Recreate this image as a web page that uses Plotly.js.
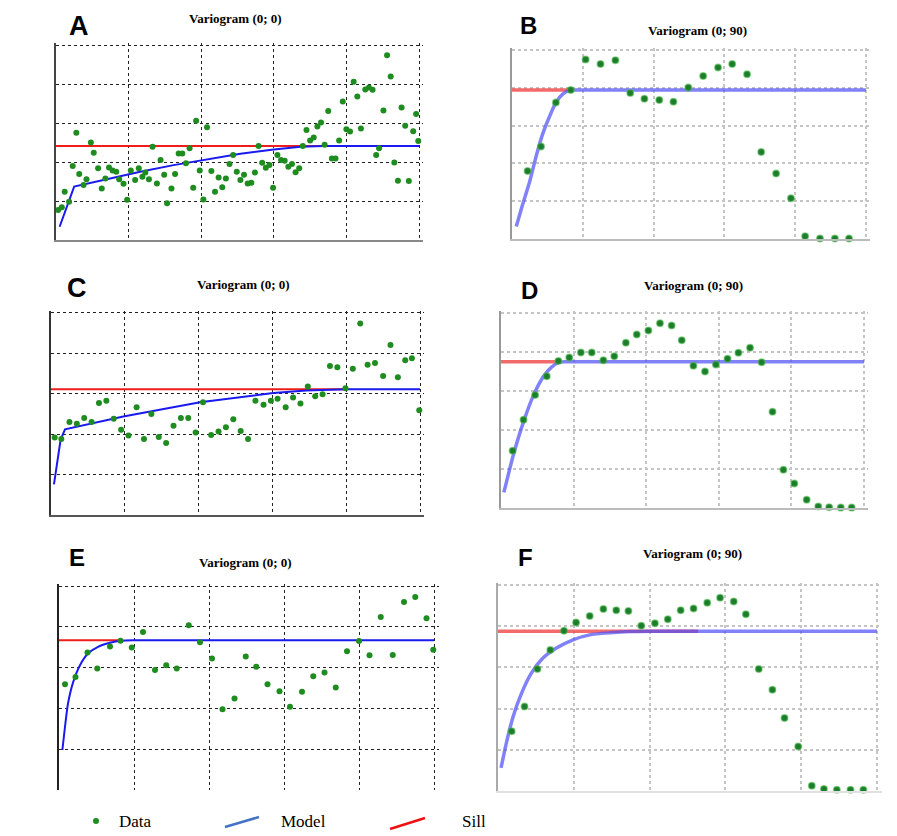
<!DOCTYPE html>
<html>
<head>
<meta charset="utf-8">
<script src="https://cdn.plot.ly/plotly-3.0.1.min.js"></script>
<style>html,body{margin:0;padding:0;background:#fff;}#chart{width:897px;height:836px;}</style>
</head>
<body>
<div id="chart"></div>
<script>
// ---------- Panel A : Variogram (0; 0) ----------
const aX = [0.03,0.08,0.12,0.18,0.23,0.28,0.32,0.38,0.42,0.48,0.52,0.58,0.63,0.68,0.73,0.78,0.83,0.87,0.93,0.98,1.03,1.09,1.14,1.19,1.23,1.28,1.33,1.39,1.44,1.49,1.53,1.59,1.64,1.69,1.74,1.79,1.84,1.89,1.93,1.98,2.03,2.08,2.14,2.19,2.24,2.29,2.34,2.39,2.44,2.49,2.54,2.59,2.64,2.69,2.74,2.79,2.84,2.89,2.94,2.99,3.05,3.10,3.15,3.20,3.25,3.30,3.35,3.40,3.45,3.50,3.55,3.60,3.65,3.70,3.75,3.80,3.85,3.90,3.95,4.00,4.05,4.10,4.15,4.20,4.26,4.31,4.36,4.41,4.45,4.51,4.56,4.61,4.66,4.71,4.76,4.81,4.86,4.92,4.96,4.99];
const aY = [0.77,0.84,1.24,0.98,1.90,2.75,1.69,1.41,1.56,2.50,2.24,1.84,1.32,1.58,1.86,1.78,1.75,1.56,1.44,1.03,1.78,1.54,1.84,1.62,1.73,1.56,2.39,1.45,2.05,1.67,0.94,1.32,1.69,2.22,2.22,1.97,2.35,1.34,3.06,1.78,1.04,2.89,1.77,1.24,1.60,1.35,1.58,1.95,2.18,1.75,1.54,1.67,1.45,1.47,1.73,2.41,1.98,1.85,1.92,1.34,2.18,2.05,2.03,1.88,1.95,1.74,1.84,2.41,2.82,2.55,2.63,2.91,3.01,2.44,3.31,2.09,2.09,2.55,3.55,2.84,2.78,4.06,3.68,2.86,3.86,3.91,3.85,2.18,2.35,3.32,4.74,4.19,1.99,1.52,3.40,2.93,1.51,2.79,3.23,2.54];
const aModelX = [0.05,0.25,0.70,1.16,1.62,2.01,2.54,3.00,3.37,3.69,5.00];
const aModelY = [0.34,1.37,1.56,1.75,1.92,2.05,2.21,2.32,2.39,2.41,2.41];
const aSillX = [0, 3.87];
const aSillY = [2.41, 2.41];

// ---------- Panel B : Variogram (0; 90) ----------
const bX = [0.22,0.41,0.62,0.83,1.04,1.25,1.46,1.67,1.87,2.08,2.28,2.49,2.70,2.91,3.11,3.32,3.52,3.73,3.94,4.14,4.35,4.56,4.76];
const bY = [1.80,2.45,3.61,3.94,4.75,4.63,4.73,3.86,3.71,3.68,3.63,4.01,4.31,4.54,4.63,4.36,2.30,1.73,1.08,0.07,0.01,0.01,0.01];
const bModelX = [0.06,0.15,0.25,0.34,0.43,0.53,0.62,0.72,0.81,0.88,5.00];
const bModelY = [0.33,0.91,1.52,2.18,2.76,3.24,3.61,3.84,3.93,3.94,3.94];
const bSillX = [0, 0.86];
const bSillY = [3.94, 3.94];

// ---------- Panel C : Variogram (0; 0) ----------
const cX = [0.05,0.14,0.25,0.35,0.45,0.55,0.65,0.75,0.85,0.95,1.05,1.16,1.26,1.36,1.46,1.56,1.66,1.76,1.86,1.96,2.06,2.17,2.27,2.37,2.47,2.57,2.67,2.77,2.88,2.98,3.07,3.18,3.28,3.38,3.48,3.58,3.68,3.78,3.88,3.99,4.09,4.19,4.29,4.39,4.50,4.60,4.70,4.80,4.89,4.99];
const cY = [1.92,1.88,2.30,2.26,2.40,2.30,2.77,2.83,2.38,2.11,1.97,2.67,1.88,2.50,1.93,1.78,2.21,2.40,2.40,2.04,2.79,1.98,2.07,2.17,2.37,2.08,1.88,2.83,2.73,2.83,2.88,2.67,2.91,2.76,3.18,2.94,2.99,3.69,3.66,3.14,3.62,4.74,3.72,3.76,3.44,4.21,3.41,3.83,3.88,2.59];
const cModelX = [0.04,0.08,0.13,0.19,0.98,2.02,3.01,3.46,4.00,5.00];
const cModelY = [0.76,1.28,1.86,2.12,2.44,2.79,3.02,3.08,3.11,3.11];
const cSillX = [0, 3.96];
const cSillY = [3.11, 3.11];

// ---------- Panel D : Variogram (0; 90) ----------
const dX = [0.16,0.31,0.47,0.63,0.79,0.94,1.10,1.25,1.41,1.56,1.72,1.87,2.03,2.19,2.35,2.49,2.65,2.81,2.96,3.12,3.27,3.43,3.59,3.74,3.89,4.04,4.21,4.37,4.52,4.68,4.83];
const dY = [1.47,2.26,2.90,3.38,3.77,3.86,3.99,3.99,3.79,3.89,4.24,4.45,4.55,4.74,4.68,4.30,3.65,3.50,3.68,3.83,3.98,4.11,3.74,2.47,0.98,0.63,0.21,0.04,0.02,0.01,0.01];
const dModelX = [0.04,0.17,0.31,0.45,0.58,0.70,0.81,0.90,5.00];
const dModelY = [0.40,1.36,2.21,2.90,3.36,3.62,3.74,3.75,3.75];
const dSillX = [0, 0.80];
const dSillY = [3.75, 3.75];

// ---------- Panel E : Variogram (0; 0) ----------
const eX = [0.08,0.22,0.38,0.51,0.68,0.82,0.97,1.12,1.28,1.43,1.57,1.73,1.88,2.04,2.18,2.34,2.49,2.63,2.78,2.94,3.08,3.24,3.39,3.54,3.69,3.84,4.00,4.14,4.29,4.45,4.60,4.75,4.90,4.99];
const eY = [2.59,2.77,3.37,2.98,3.52,3.66,3.49,3.87,2.94,3.06,2.98,4.04,3.62,3.22,1.98,2.24,3.27,3.02,2.59,2.42,2.04,2.41,2.79,2.88,2.51,3.40,3.65,3.30,4.24,3.31,4.61,4.73,4.21,3.44];
const eModelX = [0.045,0.08,0.12,0.19,0.28,0.39,0.52,0.68,0.83,0.99,5.00];
const eModelY = [0.98,1.55,2.12,2.65,3.06,3.35,3.51,3.61,3.66,3.67,3.67];
const eSillX = [0, 0.85];
const eSillY = [3.67, 3.67];

// ---------- Panel F : Variogram (0; 90) ----------
const fX = [0.18,0.35,0.52,0.69,0.87,1.03,1.21,1.39,1.56,1.72,1.89,2.07,2.24,2.41,2.58,2.76,2.93,3.11,3.27,3.44,3.62,3.78,3.96,4.14,4.30,4.47,4.65,4.82];
const fY = [1.45,2.05,2.96,3.42,3.89,4.09,4.25,4.42,4.39,4.37,4.01,4.07,4.17,4.39,4.43,4.57,4.69,4.60,4.29,2.96,2.46,1.77,1.08,0.13,0.05,0.03,0.03,0.03];
const fModelX = [0.04,0.11,0.20,0.31,0.44,0.59,0.77,0.99,1.21,1.48,1.74,2.00,5.00];
const fModelY = [0.56,1.16,1.81,2.37,2.86,3.22,3.47,3.67,3.79,3.84,3.87,3.88,3.88];
const fSillX = [0, 2.64];
const fSillY = [3.88, 3.88];

// ---------- labels ----------
const panelLetters = ["A","B","C","D","E","F"];
const panelTitles = ["Variogram (0; 0)","Variogram (0; 90)","Variogram (0; 0)","Variogram (0; 90)","Variogram (0; 0)","Variogram (0; 90)"];
const legendLabels = ["Data","Model","Sill"];
const gridTicks = [0,1,2,3,4,5];
const gridTicksNoZero = [1,2,3,4,5];

// ---------- layout helpers ----------
const W = 897, H = 836;
const px = v => v / W;
const py = v => 1 - v / H;
const EXT = 0.012; // small overshoot so the last grid line (at 5) is drawn inside the plot

const panels = [
  {x:aX,y:aY,mx:aModelX,my:aModelY,sx:aSillX,sy:aSillY, box:[56,419,45,240], soft:false, left:'#444', bottom:'#888', shape:'linear'},
  {x:bX,y:bY,mx:bModelX,my:bModelY,sx:bSillX,sy:bSillY, box:[512,866,50,239], soft:true, left:'#999', bottom:'#bbb', shape:'spline'},
  {x:cX,y:cY,mx:cModelX,my:cModelY,sx:cSillX,sy:cSillY, box:[51,420,313,515], soft:false, left:'#333', bottom:'#555', shape:'linear'},
  {x:dX,y:dY,mx:dModelX,my:dModelY,sx:dSillX,sy:dSillY, box:[501,864,313,508], soft:true, left:'#999', bottom:'#bbb', shape:'spline'},
  {x:eX,y:eY,mx:eModelX,my:eModelY,sx:eSillX,sy:eSillY, box:[59,434,586,790], soft:false, left:'#222', bottom:null, shape:'spline'},
  {x:fX,y:fY,mx:fModelX,my:fModelY,sx:fSillX,sy:fSillY, box:[498,877,585,791], soft:true, left:'#aaa', bottom:'#e0e0e0', shape:'spline'}
];

const letterPos = [[79,26],[528,26],[77,288],[529,290],[77,557],[525,557]];
const titlePos = [[236,19],[697,31],[243,284],[693,286],[246,562],[692,553]];

const traces = [];
const layout = {
  width: W, height: H,
  margin: {l:0,r:0,t:0,b:0},
  paper_bgcolor: '#fff', plot_bgcolor: 'rgba(0,0,0,0)',
  showlegend: false,
  annotations: [], shapes: []
};

panels.forEach((p, i) => {
  const n = i + 1;
  const xa = 'x' + (n === 1 ? '' : n), ya = 'y' + (n === 1 ? '' : n);
  const sillColor = p.soft ? 'rgba(240,80,80,0.85)' : '#ee1c1c';
  const modelColor = p.soft ? 'rgba(80,80,245,0.72)' : '#1a1aee';
  const lw = p.soft ? 3.5 : 2;
  traces.push({x:p.sx, y:p.sy, xaxis:xa, yaxis:ya, type:'scatter', mode:'lines',
    line:{color:sillColor, width:lw}, hoverinfo:'skip', cliponaxis:false});
  traces.push({x:p.mx, y:p.my, xaxis:xa, yaxis:ya, type:'scatter', mode:'lines',
    line:{color:modelColor, width:lw, shape:p.shape, smoothing:0.6}, hoverinfo:'skip', cliponaxis:false});
  traces.push({x:p.x, y:p.y, xaxis:xa, yaxis:ya, type:'scatter', mode:'markers',
    marker: p.soft ? {color:'#1d7d2d', size:6.5, line:{color:'rgba(70,180,70,0.55)', width:1.5}}
                   : {color:'#1e8c1e', size:6},
    cliponaxis:false});
  const gridColor = p.soft ? '#c4c4c4' : '#222';
  const gw = p.soft ? 2 : 1;
  const [x0,x1,y0,y1] = p.box;
  const xw = (x1 - x0) * EXT, yh = (y1 - y0) * EXT;
  layout['xaxis' + (n === 1 ? '' : n)] = {
    domain:[px(x0), px(x1 + xw)], anchor: ya, range:[0, 5 * (1 + EXT)], tickvals:gridTicks, showticklabels:false,
    ticks:'', showgrid:true, gridcolor:gridColor, gridwidth:gw, griddash:'dot', zeroline:false,
    showline: !!p.bottom, linecolor: p.bottom || '#fff', linewidth: 2, fixedrange:true
  };
  layout['yaxis' + (n === 1 ? '' : n)] = {
    domain:[py(y1), py(y0 - yh)], anchor: xa, range:[0, 5 * (1 + EXT)], tickvals: p.bottom ? gridTicks : gridTicksNoZero,
    showticklabels:false,
    ticks:'', showgrid:true, gridcolor:gridColor, gridwidth:gw, griddash:'dot', zeroline:false,
    showline:true, linecolor:p.left, linewidth:2, fixedrange:true
  };
  layout.annotations.push({text:'<b>' + panelLetters[i] + '</b>', xref:'paper', yref:'paper',
    x:px(letterPos[i][0]), y:py(letterPos[i][1]), xanchor:'center', yanchor:'middle', showarrow:false,
    font:{family:'Liberation Sans, Arial, sans-serif', size:(i===0||i===2)?27:24, color:'#000'}});
  layout.annotations.push({text:'<b>' + panelTitles[i] + '</b>', xref:'paper', yref:'paper',
    x:px(titlePos[i][0]), y:py(titlePos[i][1]), xanchor:'center', yanchor:'middle', showarrow:false,
    font:{family:'Liberation Serif, Times New Roman, serif', size:13, color:'#000'}});
});

// ---------- legend (bottom) ----------
layout.shapes.push({type:'circle', xref:'paper', yref:'paper',
  x0:px(93), x1:px(99), y0:py(824), y1:py(818), fillcolor:'#1e8c1e', line:{width:0}});
layout.shapes.push({type:'line', xref:'paper', yref:'paper',
  x0:px(225), y0:py(827), x1:px(259), y1:py(817), line:{color:'#4472c4', width:2.5}});
layout.shapes.push({type:'line', xref:'paper', yref:'paper',
  x0:px(390), y0:py(829), x1:px(425), y1:py(818), line:{color:'#ee1111', width:2.5}});
const legendX = [117, 279, 460];
legendLabels.forEach((t, k) => {
  layout.annotations.push({text:t, xref:'paper', yref:'paper', x:px(legendX[k]), y:py(821),
    xanchor:'left', yanchor:'middle', showarrow:false,
    font:{family:'Liberation Serif, Times New Roman, serif', size:17, color:'#000'}});
});

Plotly.newPlot('chart', traces, layout, {displayModeBar:false, staticPlot:true});
</script>
</body>
</html>
